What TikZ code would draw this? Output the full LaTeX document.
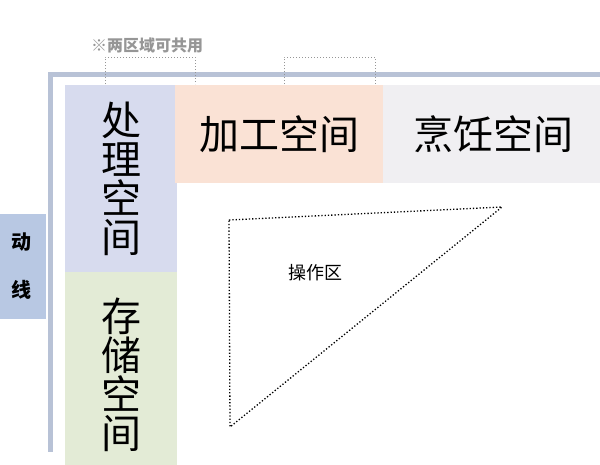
\documentclass[tikz,border=0pt]{standalone}
\usepackage{fontspec}
\setmainfont{Noto Sans CJK SC}
\usetikzlibrary{positioning}
\definecolor{chuliC}{RGB}{215,219,238}
\definecolor{cunchuC}{RGB}{227,235,214}
\definecolor{jiagongC}{RGB}{250,226,213}
\definecolor{pengrenC}{RGB}{240,239,242}
\definecolor{dongxianC}{RGB}{184,200,227}
\definecolor{frameC}{RGB}{184,194,214}
\definecolor{noteC}{RGB}{150,150,150}
\tikzset{
  area/.style={inner sep=0pt, align=center, font=\fontsize{40}{39}\selectfont},
  frameline/.style={color=frameC, line width=5pt},
  bracket/.style={color=noteC, dotted, line width=1pt},
}
\begin{document}
\begin{tikzpicture}[x=1pt,y=-1pt]
  \useasboundingbox[fill=white] (0,0) rectangle (600,464);

  \node[area, fill=chuliC, minimum width=112pt, minimum height=187pt] (chuli) at (121,178.5) {处\\理\\空\\间};
  \node[area, fill=cunchuC, minimum width=112pt, minimum height=206pt] (cunchu) at (121,375) {存\\储\\空\\间};
  \node[area, fill=jiagongC, minimum width=208pt, minimum height=98pt] (jiagong) at (279,134) {加工空间};
  \node[area, fill=pengrenC, minimum width=220pt, minimum height=98pt] (pengren) at (493,134) {烹饪空间};
  \node[area, fill=dongxianC, minimum width=50pt, minimum height=105pt, font=\fontsize{20}{48}\selectfont\bfseries] (dongxian) at (21,266) {动\\线};

  \coordinate (fR) at (602,74);
  \coordinate (fC) at (50,74);
  \coordinate (fB) at (50,452);
  \draw[frameline] (fR) -- (fC) -- (fB);

  \node[color=noteC, font=\fontsize{16}{16}\selectfont\bfseries] (note) at (147,45) {※两区域可共用};

  \coordinate (aL) at (105,84);
  \coordinate (aLt) at (105,57);
  \coordinate (aRt) at (195,57);
  \coordinate (aR) at (195,84);
  \coordinate (bL) at (284,84);
  \coordinate (bLt) at (284,57);
  \coordinate (bRt) at (375,57);
  \coordinate (bR) at (375,84);
  \draw[bracket] (aL) -- (aLt) -- (aRt) -- (aR);
  \draw[bracket] (bL) -- (bLt) -- (bRt) -- (bR);

  \coordinate (tA) at (229,220);
  \coordinate (tB) at (502,207);
  \coordinate (tC) at (230,427);
  \draw[dotted, line width=1.3pt] (tA) -- (tB) -- (tC) -- cycle;
  \node[font=\fontsize{18}{18}\selectfont] (caozuo) at (315,273) {操作区};
\end{tikzpicture}
\end{document}
